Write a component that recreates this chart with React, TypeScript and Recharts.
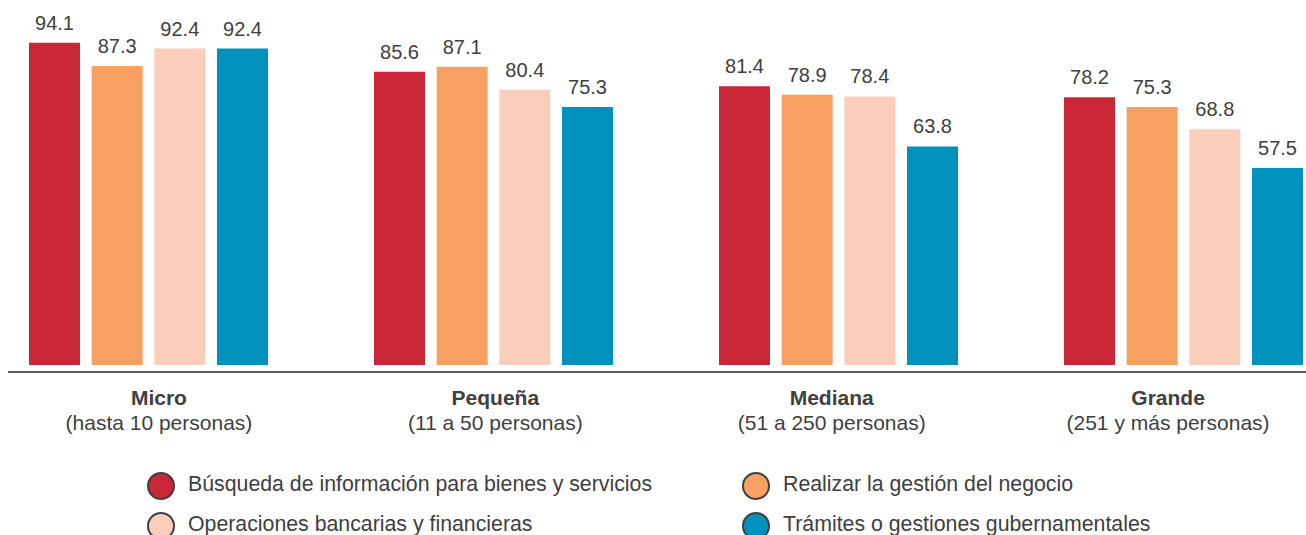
import React from "react";
import { BarChart, Bar, XAxis, YAxis, LabelList, Legend } from "recharts";

// ---- data ----
const categories = ["Micro", "Pequeña", "Mediana", "Grande"];
const subtitles = [
  "(hasta 10 personas)",
  "(11 a 50 personas)",
  "(51 a 250 personas)",
  "(251 y más personas)",
];
const seriesNames = [
  "Búsqueda de información para bienes y servicios",
  "Realizar la gestión del negocio",
  "Operaciones bancarias y financieras",
  "Trámites o gestiones gubernamentales",
];
const busqueda = [94.1, 85.6, 81.4, 78.2];
const gestion = [87.3, 87.1, 78.9, 75.3];
const bancarias = [92.4, 80.4, 78.4, 68.8];
const tramites = [92.4, 75.3, 63.8, 57.5];

const seriesValues = [busqueda, gestion, bancarias, tramites];
const seriesKeys = ["s0", "s1", "s2", "s3"];
const colors = ["#C92638", "#F7A062", "#FBCEBC", "#0091BD"];

const data = categories.map((name, i) => {
  const row: any = { name, sub: subtitles[i] };
  seriesKeys.forEach((k, j) => {
    row[k] = seriesValues[j][i];
  });
  return row;
});

// ---- layout / style ----
const FONT = '"Liberation Sans", Arial, Helvetica, sans-serif';
const TEXT = "#404040";
const CHART_W = 1380;
const CHART_H = 535;
const TICK_ORIGIN = 690;
const TICK_SCALE = 0.975;
const TICK_SHIFT = -2.5;
const LEGEND_COLS = [185, 780];
const LEGEND_ROWS = [486, 526];

const CategoryTick = (props: any) => {
  const { x, y, payload, index } = props;
  const idx = typeof index === "number" ? index : categories.indexOf(payload.value);
  const lx = TICK_ORIGIN + (x - TICK_ORIGIN) * TICK_SCALE + TICK_SHIFT;
  return (
    <g>
      <text
        x={lx}
        y={y}
        dy={25}
        textAnchor="middle"
        fontFamily={FONT}
        fontSize={21}
        fontWeight="bold"
        fill={TEXT}
      >
        {payload.value}
      </text>
      <text
        x={lx}
        y={y}
        dy={50}
        textAnchor="middle"
        fontFamily={FONT}
        fontSize={21}
        fill={TEXT}
      >
        {subtitles[idx]}
      </text>
    </g>
  );
};

const renderLegend = (props: any) => {
  const payload = props.payload || [];
  return (
    <div style={{ position: "relative", width: CHART_W, height: 0 }}>
      {payload.map((entry: any, n: number) => {
        const found = seriesNames.indexOf(entry.value);
        const i = found >= 0 ? found : n;
        const cx = LEGEND_COLS[i % 2];
        const cy = LEGEND_ROWS[Math.floor(i / 2)];
        return (
          <div
            key={i}
            style={{
              position: "absolute",
              left: cx - 14,
              top: cy - 14,
              height: 28,
              display: "flex",
              alignItems: "center",
              whiteSpace: "nowrap",
            }}
          >
            <svg width={28} height={28} style={{ display: "block" }}>
              <circle cx={14} cy={14} r={13} fill={colors[i]} stroke="#404040" strokeWidth={2} />
            </svg>
            <span
              style={{
                marginLeft: 13,
                fontFamily: FONT,
                fontSize: 21.3,
                color: TEXT,
                position: "relative",
                top: -2,
              }}
            >
              {entry.value}
            </span>
          </div>
        );
      })}
    </div>
  );
};

export default function App() {
  return (
    <div
      style={{
        position: "absolute",
        left: 8,
        top: 0,
        width: 1298,
        height: 535,
        overflow: "hidden",
        background: "#ffffff",
        fontFamily: FONT,
      }}
    >
      <div style={{ marginLeft: -32, width: CHART_W, height: CHART_H }}>
        <BarChart
          width={CHART_W}
          height={CHART_H}
          data={data}
          margin={{ top: 22.5, right: 0, left: 0, bottom: 133 }}
          barSize={51}
          barGap={11.67}
        >
          <XAxis
            dataKey="name"
            interval={0}
            tickLine={false}
            axisLine={{ stroke: "#595959", strokeWidth: 2 }}
            tick={<CategoryTick />}
            height={30}
          />
          <YAxis hide type="number" domain={[-2.04, 100]} allowDataOverflow />
          <Legend
            layout="horizontal"
            verticalAlign="middle"
            align="center"
            content={renderLegend}
            wrapperStyle={{ left: 0, top: 0, width: CHART_W, height: 0 }}
          />
          {seriesKeys.map((k, j) => (
            <Bar
              key={k}
              dataKey={k}
              name={seriesNames[j]}
              fill={colors[j]}
              isAnimationActive={false}
            >
              <LabelList
                dataKey={k}
                position="top"
                offset={13}
                fill={TEXT}
                fontSize={20}
                fontFamily={FONT}
                formatter={(v: any) => Number(v).toFixed(1)}
              />
            </Bar>
          ))}
        </BarChart>
      </div>
    </div>
  );
}
